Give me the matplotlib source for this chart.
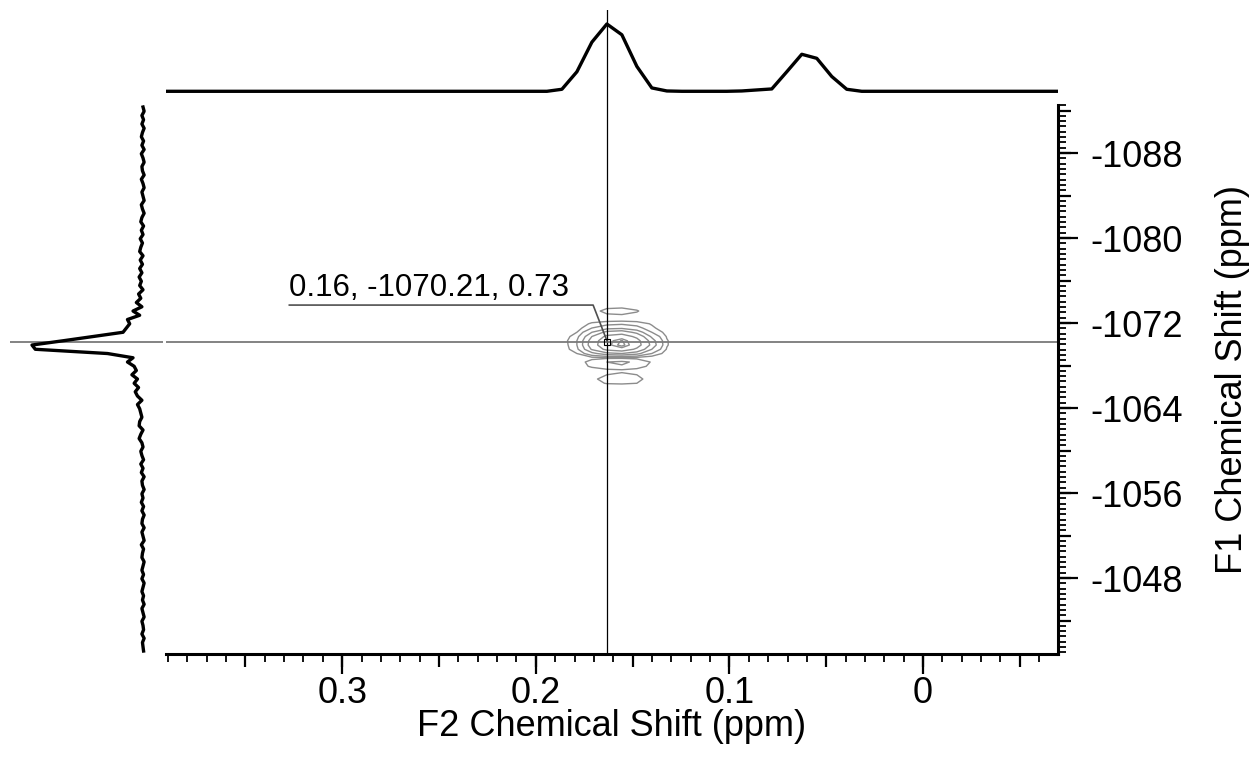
import numpy as np
import matplotlib
matplotlib.use("Agg")
import matplotlib.pyplot as plt
from matplotlib.ticker import MultipleLocator, FuncFormatter

plt.rcParams['font.family'] = ['Liberation Sans', 'DejaVu Sans']
plt.rcParams['axes.unicode_minus'] = False

# F2 projection (top trace)
f2_ppm = np.linspace(0.3956, -0.069, 61)
f2_int = [0.0, 0.0, 0.0, 0.0, 0.0, 0.0, 0.0, 0.0, 0.0, 0.0,
          0.0, 0.0, 0.0, 0.0, 0.0, 0.0, 0.0, 0.0, 0.0, 0.0,
          0.0, 0.0, 0.0, 0.0, 0.0, 0.0,
          0.0, 0.03, 0.29, 0.73, 1.0, 0.84, 0.37, 0.05, 0.005, 0.0,
          0.0, 0.0, 0.0, 0.005, 0.02, 0.035, 0.29, 0.55, 0.49, 0.22,
          0.03, 0.0,
          0.0, 0.0, 0.0, 0.0, 0.0, 0.0, 0.0, 0.0, 0.0, 0.0, 0.0, 0.0, 0.0]

# F1 projection (left trace)
f1_ppm = np.linspace(-1092.33, -1041.13, 129)
f1_int = [0.0, -0.01, 0.01, -0.005, 0.01, -0.01, 0.005, 0.015, -0.005, 0.01, -0.01,
          0.015, 0.0, -0.01, 0.01, 0.005, -0.01, 0.015, 0.0, -0.01, 0.01,
          0.0, -0.01, 0.015, 0.005, -0.01, 0.01, 0.02, -0.005, 0.015, 0.0,
          0.025, 0.005, 0.02, 0.03, 0.0, 0.025, 0.005, 0.03, 0.01, 0.035,
          0.015, 0.03, 0.0, 0.04, 0.02, 0.06, 0.01, 0.09, 0.03,
          0.14, 0.12, 0.15, 0.18, 0.45, 0.72, 1.0, 0.97, 0.32, 0.09,
          0.14, 0.08, 0.06, 0.10, 0.05, 0.08, 0.04, 0.07, 0.05, 0.01,
          0.05, 0.03, 0.02, 0.01, 0.03, 0.035, 0.0, 0.02, 0.035, 0.01,
          0.0, 0.02, 0.01, -0.005, 0.02, 0.0, 0.015, -0.01, 0.01, 0.005,
          -0.01, 0.01, 0.0, 0.015, -0.005, 0.01, -0.01, 0.005, 0.01, -0.01,
          0.01, 0.0, -0.01, 0.015, -0.005, 0.005, 0.01, -0.01, 0.0, 0.01,
          -0.005, 0.01, -0.01, 0.0, 0.01, -0.005, 0.005, -0.01, 0.01, 0.0,
          -0.01, 0.01, 0.0, -0.005, 0.01, -0.01, 0.005, 0.0, -0.005]

# 2D cross peak (sub-block of the spectrum around the peak)
grid_f2 = f2_ppm[26:36]
grid_f1 = f1_ppm[46:67]
peak_z = [
    [0, 0, 0, 0, 0, 0, 0, 0, 0, 0],
    [0, 0, 0, 0.03, 0.07, 0.08, 0.06, 0.02, 0, 0],
    [0, 0, 0, 0.05, 0.14, 0.15, 0.11, 0.03, 0, 0],
    [0, 0, 0, 0.04, 0.08, 0.09, 0.07, 0.02, 0, 0],
    [0, 0, 0.01, 0.04, 0.05, 0.05, 0.05, 0.03, 0, 0],
    [0, 0, 0.03, 0.12, 0.16, 0.18, 0.15, 0.09, 0.03, 0],
    [0, 0, 0.05, 0.2, 0.3, 0.32, 0.25, 0.12, 0.04, 0],
    [0, 0.02, 0.1, 0.35, 0.55, 0.6, 0.45, 0.2, 0.06, 0],
    [0, 0.03, 0.16, 0.5, 0.75, 0.82, 0.65, 0.32, 0.09, 0],
    [0, 0.04, 0.2, 0.58, 0.85, 0.97, 0.78, 0.42, 0.11, 0],
    [0, 0.03, 0.2, 0.6, 0.86, 1.0, 0.8, 0.45, 0.11, 0],
    [0, 0.03, 0.17, 0.52, 0.76, 0.84, 0.66, 0.35, 0.09, 0],
    [0, 0.01, 0.1, 0.3, 0.45, 0.5, 0.4, 0.2, 0.05, 0],
    [0, 0, 0.03, 0.07, 0.08, 0.08, 0.07, 0.04, 0.01, 0],
    [0, 0, 0.05, 0.14, 0.2, 0.22, 0.18, 0.09, 0, 0],
    [0, 0, 0.04, 0.12, 0.17, 0.19, 0.15, 0.07, 0, 0],
    [0, 0, 0.01, 0.04, 0.07, 0.08, 0.06, 0.02, 0, 0],
    [0, 0, 0, 0.05, 0.1, 0.12, 0.1, 0.03, 0, 0],
    [0, 0, 0, 0.07, 0.15, 0.17, 0.14, 0.04, 0, 0],
    [0, 0, 0, 0.05, 0.11, 0.12, 0.1, 0.03, 0, 0],
    [0, 0, 0, 0, 0, 0, 0, 0, 0, 0],
]
levels = [0.1, 0.2, 0.35, 0.5, 0.7, 0.9, 0.96]

# cursor
cur_f2 = 0.163
cur_f1 = -1070.21
cur_text = "0.16, -1070.21, 0.73"

W, H = 1253, 759


def rect(x0, y0, x1, y1):
    return [x0 / W, 1 - y1 / H, (x1 - x0) / W, (y1 - y0) / H]


fig = plt.figure(figsize=(W / 100, H / 100), dpi=100)
ax = fig.add_axes(rect(166, 105, 1058, 654))
ax_top = fig.add_axes(rect(166, 10, 1058, 105), sharex=ax)
ax_left = fig.add_axes(rect(10, 105, 163, 654), sharey=ax)

ax.set_xlim(0.391, -0.0697)
ax.set_ylim(-1040.85, -1092.52)

# contours
ax.contour(grid_f2, grid_f1, peak_z, levels=levels, colors='#8c8c8c', linewidths=1.0)

# cursor lines
ax.axvline(cur_f2, color='black', lw=0.9)
ax.axhline(cur_f1, color='#7a7a7a', lw=1.3)
ax_top.axvline(cur_f2, color='black', lw=0.9)
ax_left.axhline(cur_f1, color='#7a7a7a', lw=1.3)

# cursor label
ax.plot([0.3273, 0.1704, cur_f2], [-1073.69, -1073.69, cur_f1], color='#505050', lw=1.2)
ax.plot([cur_f2], [cur_f1], marker='s', ms=5, mfc='none', mec='black', mew=0.8)
ax.text(0.3273, -1074.54, cur_text, fontsize=22.5, ha='left', va='baseline')

# projections
ax_top.plot(f2_ppm, f2_int, color='black', lw=2.4)
ax_top.set_ylim(-0.2036, 1.208)
ax_top.axis('off')

ax_left.plot(f1_int, f1_ppm, color='black', lw=2.4)
ax_left.set_xlim(1.198, -0.180)
ax_left.axis('off')

# axes style
for s in ['left', 'top']:
    ax.spines[s].set_visible(False)
for s in ['bottom', 'right']:
    ax.spines[s].set_linewidth(2.2)

ax.xaxis.set_major_locator(MultipleLocator(0.1))
ax.xaxis.set_minor_locator(MultipleLocator(0.01))
ax.xaxis.set_major_formatter(FuncFormatter(lambda v, p: '%g' % (round(v, 3) + 0.0)))
ax.yaxis.set_major_locator(MultipleLocator(8))
ax.yaxis.set_minor_locator(MultipleLocator(0.5))
ax.yaxis.tick_right()
ax.tick_params(which='major', direction='out', length=14.4, width=1.6, labelsize=26)
ax.tick_params(which='minor', direction='out', length=6, width=1.3)
ax.tick_params(axis='x', which='major', pad=1.5)
ax.tick_params(axis='y', which='major', pad=9)

# medium ticks at the half steps
sec = ax.secondary_xaxis('bottom')
sec.xaxis.set_major_locator(MultipleLocator(0.05))
sec.tick_params(direction='out', length=9, width=1.6, labelbottom=False)
sec.spines['bottom'].set_visible(False)

sec_y = ax.secondary_yaxis('right')
sec_y.yaxis.set_major_locator(MultipleLocator(4))
sec_y.tick_params(direction='out', length=9, width=1.6, labelright=False)
sec_y.spines['right'].set_visible(False)

fig.text(612 / W, 1 - 736 / H, 'F2 Chemical Shift (ppm)', fontsize=26, ha='center', va='baseline')
fig.text(1232 / W, 1 - 380 / H, 'F1 Chemical Shift (ppm)', fontsize=26, ha='center', va='center',
         rotation=90)

fig.savefig('out.png', dpi=100)
